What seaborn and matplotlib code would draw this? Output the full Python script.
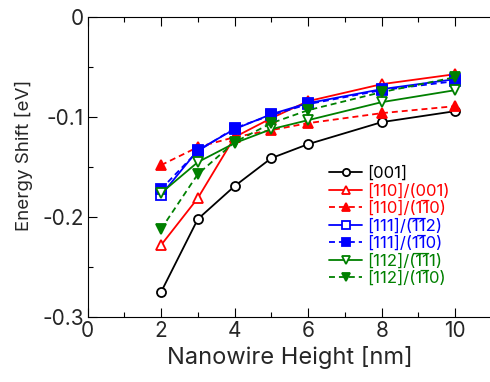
import matplotlib
matplotlib.use("Agg")
import matplotlib.pyplot as plt
import seaborn as sns
import pandas as pd
from matplotlib.ticker import MultipleLocator

# nanowire height [nm]
height = [2, 3, 4, 5, 6, 8, 10]

# energy shift [eV] per orientation
e_001 = [-0.275, -0.202, -0.169, -0.141, -0.127, -0.105, -0.094]
e_110_001 = [-0.228, -0.181, -0.120, -0.101, -0.084, -0.067, -0.057]
e_110_1m10 = [-0.148, -0.130, -0.120, -0.113, -0.106, -0.096, -0.089]
e_111_m1m12 = [-0.178, -0.133, -0.112, -0.097, -0.086, -0.072, -0.062]
e_111_1m10 = [-0.172, -0.134, -0.111, -0.098, -0.087, -0.073, -0.064]
e_112_m1m11 = [-0.176, -0.145, -0.126, -0.112, -0.103, -0.085, -0.073]
e_112_1m10 = [-0.212, -0.157, -0.125, -0.106, -0.093, -0.075, -0.060]

# "1\u0305" = 1 with an overbar (negative Miller index)
labels = [
    "[001]",
    "[110]/(001)",
    "[110]/(11\u03050)",
    "[111]/(1\u03051\u03052)",
    "[111]/(11\u03050)",
    "[112]/(1\u03051\u03051)",
    "[112]/(11\u03050)",
]
colors = ["black", "red", "red", "blue", "blue", "green", "green"]

sns.set_style("ticks")
plt.rcParams["font.family"] = ["Inter", "DejaVu Sans"]
plt.rcParams["axes.unicode_minus"] = False

fig = plt.figure(figsize=(4.9, 3.82), dpi=100)
ax = fig.add_axes([0.1786, 0.170, 0.8255, 0.785])

dash = (0, (3.3, 2.2))
series = [
    (e_001, "o", "-", True, 6.5),
    (e_110_001, "^", "-", True, 7.5),
    (e_110_1m10, "^", dash, False, 7.5),
    (e_111_m1m12, "s", "-", True, 6.5),
    (e_111_1m10, "s", dash, False, 6.5),
    (e_112_m1m11, "v", "-", True, 7.5),
    (e_112_1m10, "v", dash, False, 7.5),
]

for (vals, mk, ls, hollow, ms), lab, c in zip(series, labels, colors):
    df = pd.DataFrame({"h": height, "e": vals})
    sns.lineplot(data=df, x="h", y="e", ax=ax, color=c, marker=mk,
                 linestyle=ls, linewidth=1.3, markersize=ms,
                 markerfacecolor="white" if hollow else c,
                 markeredgecolor=c, markeredgewidth=1.3, label=lab)

ax.set_xlim(0, 11)
ax.set_ylim(-0.3, 0)
ax.xaxis.set_major_locator(MultipleLocator(2))
ax.xaxis.set_minor_locator(MultipleLocator(1))
ax.yaxis.set_minor_locator(MultipleLocator(0.05))
ax.set_yticks([0, -0.1, -0.2, -0.3])
ax.set_yticklabels(["0", "-0.1", "-0.2", "-0.3"])
ax.tick_params(which="both", direction="in", top=True, right=False,
               labelsize=15, width=0.8, color="black")
ax.tick_params(which="major", length=6.5)
ax.tick_params(which="minor", length=3.5)
ax.tick_params(axis="y", pad=2.5)
ax.tick_params(axis="x", pad=3)
for sp in ax.spines.values():
    sp.set_linewidth(0.8)
    sp.set_color("black")
ax.spines["right"].set_visible(False)

ax.set_xlabel("Nanowire Height [nm]", fontsize=17, labelpad=3.5)
ax.set_ylabel("Energy Shift [eV]", fontsize=13.5)
ax.yaxis.set_label_coords(-0.135, 0.538)

leg = ax.legend(loc="upper left", bbox_to_anchor=(0.597, 0.505),
                frameon=False, fontsize=12, labelspacing=0.13,
                handlelength=2.0, handletextpad=0.3, borderpad=0,
                borderaxespad=0, markerscale=0.8)
for t, c in zip(leg.get_texts(), colors):
    t.set_color(c)

fig.savefig("out.png", dpi=100)
